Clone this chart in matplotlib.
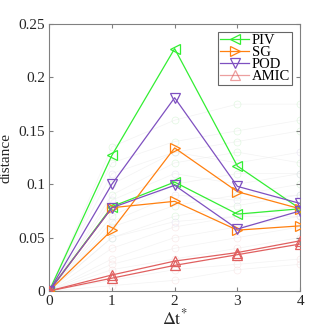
import matplotlib

matplotlib.use("Agg")
import matplotlib.pyplot as plt
import numpy as np

plt.rcParams["font.family"] = ["Liberation Serif", "DejaVu Serif"]
plt.rcParams["mathtext.fontset"] = "stix"

steps = [0, 1, 2, 3, 4]

# main curves: two runs per method
piv_a = [0, 0.127, 0.227, 0.117, 0.077]
piv_b = [0, 0.079, 0.102, 0.072, 0.077]
sg_a = [0, 0.057, 0.134, 0.093, 0.077]
sg_b = [0, 0.078, 0.084, 0.057, 0.061]
pod_a = [0, 0.100, 0.181, 0.098, 0.082]
pod_b = [0, 0.078, 0.099, 0.058, 0.075]
amic_a = [0, 0.015, 0.028, 0.036, 0.047]
amic_b = [0, 0.012, 0.024, 0.034, 0.044]

# faint background trajectories
bg_green = [
    [0, 0.135, 0.16, 0.175, 0.175],
    [0, 0.12, 0.14, 0.15, 0.16],
    [0, 0.10, 0.13, 0.14, 0.15],
    [0, 0.09, 0.12, 0.13, 0.12],
    [0, 0.07, 0.10, 0.11, 0.11],
    [0, 0.06, 0.08, 0.09, 0.10],
    [0, 0.05, 0.07, 0.08, 0.09],
]
bg_pink = [
    [0, 0.04, 0.06, 0.07, 0.08],
    [0, 0.03, 0.05, 0.06, 0.07],
    [0, 0.025, 0.04, 0.05, 0.06],
    [0, 0.02, 0.03, 0.04, 0.05],
    [0, 0.01, 0.02, 0.025, 0.03],
    [0, 0.005, 0.01, 0.02, 0.025],
]
bg_purple = [
    [0, 0.11, 0.13, 0.12, 0.13],
    [0, 0.085, 0.11, 0.10, 0.11],
    [0, 0.065, 0.09, 0.085, 0.09],
    [0, 0.05, 0.065, 0.07, 0.07],
]

methods = [
    ("PIV", "#33ee33", "<", [piv_a, piv_b]),
    ("SG", "#ff8010", ">", [sg_a, sg_b]),
    ("POD", "#7e50c0", "v", [pod_a, pod_b]),
    ("AMIC", "#e06060", "^", [amic_a, amic_b]),
]

fig = plt.figure(figsize=(3.32, 3.32), dpi=100)
ax = fig.add_axes([0.148, 0.1235, 0.756, 0.804])

for group, mcol in [(bg_green, "#ccf2cc"), (bg_pink, "#f6dcdc"), (bg_purple, "#e2dcf0")]:
    for ys in group:
        ax.plot(steps, ys, color="#ebebeb", linewidth=0.5, alpha=0.6,
                marker="o", markersize=5, markerfacecolor="none",
                markeredgecolor=mcol, markeredgewidth=0.5, zorder=1)

for label, colour, mk, runs in methods:
    for i, ys in enumerate(runs):
        ax.plot(steps, ys, color=colour, linewidth=0.9, marker=mk,
                markersize=7, markerfacecolor="none", markeredgecolor=colour,
                markeredgewidth=0.9, zorder=3,
                label=label if i == 0 else None)

ax.set_xlim(0, 4)
ax.set_ylim(0, 0.25)
ax.set_xticks(steps)
ax.set_yticks([0, 0.05, 0.1, 0.15, 0.2, 0.25])
ax.set_yticklabels(["0", "0.05", "0.1", "0.15", "0.2", "0.25"])
ax.tick_params(direction="in", top=True, right=True, labelsize=11,
               color="#808080", labelcolor="#262626", length=3, pad=3)
for s in ax.spines.values():
    s.set_color("#808080")
    s.set_linewidth(0.8)
ax.set_xlabel(r"$\mathrm{\Delta t}^{*}$", fontsize=13, labelpad=0, color="#262626")
ax.set_ylabel("distance", fontsize=11, labelpad=4, color="#262626")

leg = ax.legend(loc="upper right", fontsize=10.5, frameon=True, fancybox=False,
                edgecolor="#404040", borderpad=0.15, labelspacing=-0.1,
                handlelength=2.0, handletextpad=0.15, borderaxespad=0.55)
leg.get_frame().set_linewidth(0.8)
leg.legend_handles[3].set_alpha(0.6)

fig.savefig("out.png", dpi=100)
